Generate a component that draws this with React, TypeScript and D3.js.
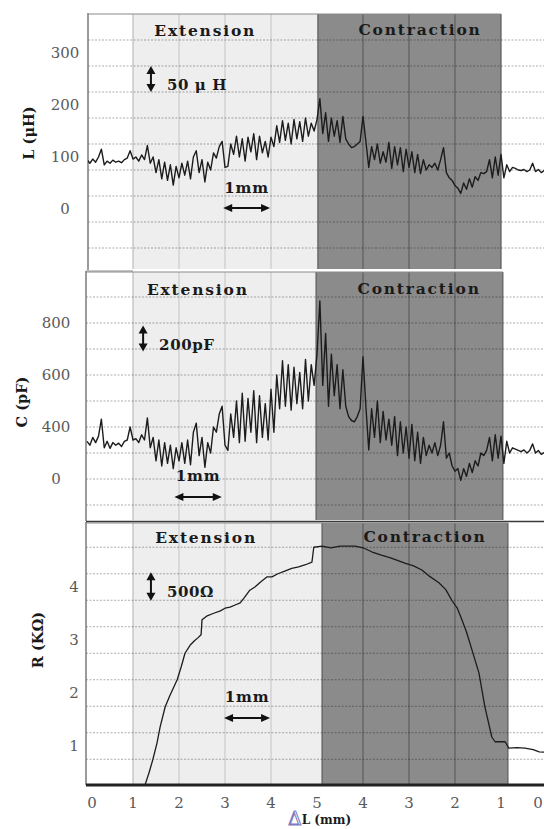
import React from "react";
import * as d3 from "d3";

// ---- data (travel along the ΔL axis, sampled every STEP_MM) ----
const STEP_MM = 0.0625;

// Inductance L (µH)
const L_VALUES = [
  95, 88, 96, 90, 100, 115, 85, 92, 88, 94, 90, 92, 89, 95, 98, 112, 96,
  100, 92, 104, 95, 122, 88, 100, 70, 95, 58, 90, 55, 85, 46, 82, 60,
  88, 65, 92, 58, 100, 112, 70, 95, 52, 90, 75, 108, 98, 120, 130, 80,
  82, 125, 105, 140, 100, 135, 92, 138, 110, 145, 95, 140, 108, 130, 100, 138,
  120, 160, 128, 170, 132, 165, 125, 172, 135, 168, 130, 175, 140, 165, 150, 172,
  212, 145, 185, 130, 175, 140, 170, 128, 178, 135, 125, 118, 120, 125, 130, 178,
  130, 80, 120, 95, 125, 88, 110, 90, 128, 78, 120, 85, 118, 72, 115, 80,
  110, 70, 105, 68, 95, 75, 85, 80, 88, 75, 95, 118, 70, 60, 55, 45,
  40, 30, 50, 38, 58, 42, 62, 55, 70, 68, 72, 95, 60, 100, 65, 105,
  60, 85, 72, 80, 78, 75, 74, 76, 72, 75, 88, 72, 76, 70, 74, 73,
];

// Capacitance C (pF)
const C_VALUES = [
  345, 330, 360, 340, 365, 430, 320, 345, 318, 340, 330, 338, 325, 345, 350, 400, 350,
  355, 340, 370, 350, 435, 320, 360, 270, 350, 250, 340, 260, 330, 240, 320, 270,
  340, 260, 350, 255, 380, 415, 290, 360, 245, 340, 300, 400, 380, 450, 480, 330,
  310, 450, 360, 500, 340, 530, 345, 510, 380, 540, 340, 520, 360, 490, 350, 545,
  380, 600, 470, 655, 480, 640, 465, 630, 490, 610, 470, 660, 500, 640, 560, 680,
  885, 560, 760, 480, 680, 520, 640, 470, 620, 480, 440, 425, 420, 440, 470, 670,
  480, 312, 470, 360, 500, 340, 460, 350, 430, 330, 440, 290, 420, 300, 400, 280,
  410, 270, 380, 260, 360, 290, 330, 300, 340, 290, 330, 420, 280, 300, 250, 230,
  240, 195, 240, 210, 260, 225, 270, 250, 300, 290, 310, 360, 270, 370, 280, 365,
  260, 345, 300, 320, 315, 310, 305, 312, 300, 310, 335, 300, 310, 295, 302, 298,
];

// Resistance R (KΩ) at travel positions (mm)
const R_POS = [
  1.2, 1.26, 1.35, 1.43, 1.52, 1.59, 1.7, 1.8, 1.96, 2.05,
  2.13, 2.24, 2.33, 2.41, 2.48, 2.5, 2.6, 2.74, 2.9, 3.0,
  3.11, 3.22, 3.33, 3.42, 3.54, 3.65, 3.78, 3.91, 4.02, 4.15,
  4.3, 4.45, 4.6, 4.75, 4.89, 4.93, 5.11, 5.3, 5.5, 5.83,
  6.0, 6.2, 6.4, 6.6, 6.91, 7.1, 7.28, 7.45, 7.65, 7.8,
  7.93, 8.05, 8.15, 8.25, 8.37, 8.52, 8.65, 8.8, 8.87, 9.09,
  9.17, 9.35, 9.52, 9.7, 9.83, 10.0,
];
const R_VALUES = [
  0.0, 0.26, 0.5, 0.74, 1.05, 1.36, 1.74, 1.95, 2.25, 2.5,
  2.75, 2.9, 2.98, 3.04, 3.1, 3.38, 3.45, 3.5, 3.55, 3.6,
  3.62, 3.66, 3.7, 3.8, 3.94, 4.0, 4.1, 4.19, 4.19, 4.25,
  4.3, 4.35, 4.38, 4.42, 4.47, 4.75, 4.77, 4.74, 4.77, 4.77,
  4.74, 4.66, 4.6, 4.55, 4.45, 4.4, 4.32, 4.2, 4.08, 3.95,
  3.75, 3.6, 3.38, 3.15, 2.81, 2.38, 1.74, 1.17, 1.08, 1.08,
  0.96, 0.97, 0.96, 0.93, 0.89, 0.88,
];

const X_TICKS = [0, 1, 2, 3, 4, 5, 6, 7, 8, 9, 10];
const X_TICK_LABELS = ["0", "1", "2", "3", "4", "5", "4", "3", "2", "1", "0"];
const L_TICKS = [300, 200, 100, 0];
const C_TICKS = [800, 600, 400, 200];
const C_TICK_LABELS = ["800", "600", "400", "0"];
const R_TICKS = [4, 3, 2, 1];
const PHASES = ["Extension", "Contraction"];
// phase boundaries per panel (mm of travel)
const EXT_START = [1, 1, 1];
const EXT_END = [5.02, 4.98, 5.11];
const CON_END = [9.0, 9.04, 9.15];
const SCALE_TEXT = ["50 μ H", "200pF", "500Ω"];
const AXIS_TITLES = ["L (μH)", "C (pF)", "R (KΩ)"];

const SERIF = "'DejaVu Serif', 'Liberation Serif', serif";

function VArrow({ x, y1, y2 }: { x: number; y1: number; y2: number }) {
  return (
    <g>
      <line x1={x} x2={x} y1={y1 + 5} y2={y2 - 5} stroke="#111" strokeWidth={2} />
      <path d={`M${x - 4.5},${y1 + 8} L${x},${y1} L${x + 4.5},${y1 + 8} Z`} fill="#111" />
      <path d={`M${x - 4.5},${y2 - 8} L${x},${y2} L${x + 4.5},${y2 - 8} Z`} fill="#111" />
    </g>
  );
}

function HArrow({ x1, x2, y }: { x1: number; x2: number; y: number }) {
  return (
    <g>
      <line x1={x1 + 5} x2={x2 - 5} y1={y} y2={y} stroke="#111" strokeWidth={1.8} />
      <path d={`M${x1 + 9},${y - 4} L${x1},${y} L${x1 + 9},${y + 4} Z`} fill="#111" />
      <path d={`M${x2 - 9},${y - 4} L${x2},${y} L${x2 - 9},${y + 4} Z`} fill="#111" />
    </g>
  );
}

export default function App() {
  const W = 544;
  const H = 829;
  const x = d3.scaleLinear().domain([0, 10]).range([87, 547]);

  const yL = d3.scaleLinear().domain([0, 300]).range([209, 53]);
  const yC = d3.scaleLinear().domain([800, 400]).range([323, 427]);
  const yR = d3.scaleLinear().domain([4, 0]).range([587, 799]);

  const lineIdx = (y: d3.ScaleLinear<number, number>) =>
    d3
      .line<number>()
      .x((_, i) => x(i * STEP_MM))
      .y((d) => y(d));

  const rLine = d3
    .line<number>()
    .x((_, i) => x(R_POS[i]))
    .y((d) => yR(d));

  const panels = [
    {
      top: 14, bottom: 269, left: 88, y: yL,
      grid: d3.range(-75, 330, 50),
      ticks: L_TICKS, tickLabels: L_TICKS.map(String), tickX: 65,
      titleX: 28, titleY: 133,
      path: lineIdx(yL)(L_VALUES) || "",
      labelY: [30, 29], labelX: [2.57, 7.24],
      vArrow: { t: 1.39, v1: 275, v2: 225 },
      mm: { t1: 2.96, t2: 3.98, ty: 188, ay: 208 },
    },
    {
      top: 272, bottom: 520, left: 86, y: yC,
      grid: d3.range(100, 901, 100),
      ticks: C_TICKS, tickLabels: C_TICK_LABELS, tickX: 56,
      titleX: 21, titleY: 402,
      path: lineIdx(yC)(C_VALUES) || "",
      labelY: [289, 288], labelX: [2.41, 7.22],
      vArrow: { t: 1.22, v1: 790, v2: 690 },
      mm: { t1: 1.9, t2: 2.93, ty: 476, ay: 497 },
    },
    {
      top: 523, bottom: 784, left: 86, y: yR,
      grid: d3.range(0.75, 4.8, 0.5),
      ticks: R_TICKS, tickLabels: R_TICKS.map(String), tickX: 74,
      titleX: 37, titleY: 640,
      path: rLine(R_VALUES) || "",
      labelY: [537, 536], labelX: [2.59, 7.35],
      vArrow: { t: 1.39, v1: 4.28, v2: 3.74 },
      mm: { t1: 2.98, t2: 3.98, ty: 697, ay: 718 },
    },
  ];

  return (
    <div>
      <style>{`body{margin:0;background:#fff}`}</style>
      <svg width={W} height={H} viewBox={`0 0 ${W} ${H}`} style={{ display: "block" }}>
        <defs>
          {panels.map((p, k) => (
            <clipPath id={`clip${k}`} key={k}>
              <rect x={p.left} y={p.top} width={W - p.left} height={p.bottom - p.top} />
            </clipPath>
          ))}
        </defs>
        <rect x={0} y={0} width={W} height={H} fill="#fff" />

        {panels.map((p, k) => {
          const xe0 = x(EXT_START[k]);
          const xe1 = x(EXT_END[k]);
          const xc1 = x(CON_END[k]);
          return (
            <g key={k}>
              {/* phase regions */}
              <rect x={xe0} y={p.top} width={xe1 - xe0} height={p.bottom - p.top} fill="#eeeeee" />
              <rect x={xe1} y={p.top} width={xc1 - xe1} height={p.bottom - p.top} fill="#8b8b8b" />
              {/* vertical grid */}
              {[2, 3, 4].map((t) => (
                <line key={`ve${t}`} x1={x(t)} x2={x(t)} y1={p.top} y2={p.bottom} stroke="#c4c4c4" strokeWidth={1} />
              ))}
              {[6, 7, 8].map((t) => (
                <line key={`vc${t}`} x1={x(t)} x2={x(t)} y1={p.top} y2={p.bottom} stroke="#5e5e5e" strokeWidth={1.2} />
              ))}
              <line x1={xe0} x2={xe0} y1={p.top} y2={p.bottom} stroke="#bdbdbd" strokeWidth={1.2} />
              <line x1={xe1} x2={xe1} y1={p.top} y2={p.bottom} stroke="#5a5a5a" strokeWidth={1.2} />
              <line x1={xc1} x2={xc1} y1={p.top} y2={p.bottom} stroke="#5a5a5a" strokeWidth={1.2} />
              {/* horizontal dotted grid */}
              {p.grid.map((v) => (
                <line
                  key={`h${v}`}
                  x1={p.left}
                  x2={W}
                  y1={p.y(v)}
                  y2={p.y(v)}
                  stroke="rgba(0,0,0,0.32)"
                  strokeWidth={1}
                  strokeDasharray="2,1.5"
                />
              ))}
              {/* frame */}
              <line x1={p.left} x2={p.left} y1={p.top - 1} y2={p.bottom + 1} stroke="#7a7a7a" strokeWidth={1.5} />
              <line x1={p.left} x2={xc1} y1={p.top} y2={p.top} stroke="#8a8a8a" strokeWidth={1} />
              {/* phase labels */}
              {PHASES.map((lab, j) => (
                <text
                  key={lab}
                  x={x(p.labelX[j])}
                  y={p.labelY[j]}
                  textAnchor="middle"
                  dominantBaseline="central"
                  fontFamily={SERIF}
                  fontWeight="bold"
                  fontSize={15.5}
                  letterSpacing={1.8}
                  fill="#1a1a1a"
                >
                  {lab}
                </text>
              ))}
              {/* data line */}
              <path
                d={p.path}
                fill="none"
                stroke="#1c1c1c"
                strokeWidth={k === 2 ? 1.3 : 1.4}
                strokeLinejoin="round"
                clipPath={`url(#clip${k})`}
              />
              {/* y ticks */}
              {p.ticks.map((v, j) => (
                <text
                  key={`t${v}`}
                  x={p.tickX}
                  y={p.y(v)}
                  textAnchor="middle"
                  dominantBaseline="central"
                  fontFamily={SERIF}
                  fontSize={15}
                  fill="#5a5a5a"
                >
                  {p.tickLabels[j]}
                </text>
              ))}
              {/* y axis title */}
              <text
                transform={`translate(${p.titleX},${p.titleY}) rotate(-90)`}
                textAnchor="middle"
                dominantBaseline="central"
                fontFamily={SERIF}
                fontWeight="bold"
                fontSize={14.5}
                fill="#1a1a1a"
              >
                {AXIS_TITLES[k]}
              </text>
              {/* vertical scale bar */}
              <VArrow x={x(p.vArrow.t)} y1={p.y(p.vArrow.v1)} y2={p.y(p.vArrow.v2)} />
              <text
                x={x(p.vArrow.t) + 16}
                y={(p.y(p.vArrow.v1) + p.y(p.vArrow.v2)) / 2 + 6}
                dominantBaseline="central"
                fontFamily={SERIF}
                fontWeight="bold"
                fontSize={15}
                letterSpacing={0.6}
                fill="#1a1a1a"
              >
                {SCALE_TEXT[k]}
              </text>
              {/* 1 mm scale bar */}
              <text
                x={(x(p.mm.t1) + x(p.mm.t2)) / 2}
                y={p.mm.ty}
                textAnchor="middle"
                dominantBaseline="central"
                fontFamily={SERIF}
                fontWeight="bold"
                fontSize={15}
                letterSpacing={0.8}
                fill="#1a1a1a"
              >
                1mm
              </text>
              <HArrow x1={x(p.mm.t1)} x2={x(p.mm.t2)} y={p.mm.ay} />
            </g>
          );
        })}

        {/* separators between panels */}
        <line x1={86} x2={W} y1={521.5} y2={521.5} stroke="#3a3a3a" strokeWidth={1.5} />
        <line x1={86} x2={x(EXT_START[1])} y1={271} y2={271} stroke="#8a8a8a" strokeWidth={1} />

        {/* bottom axis */}
        <line x1={86} x2={W} y1={785} y2={785} stroke="#222" strokeWidth={3} />
        {X_TICKS.map((t, i) => (
          <text
            key={`xt${i}`}
            x={Math.min(x(t) + (i === 0 ? 5 : 0), 538)}
            y={803}
            textAnchor="middle"
            dominantBaseline="central"
            fontFamily={SERIF}
            fontSize={15}
            fill="#5a5a5a"
          >
            {X_TICK_LABELS[i]}
          </text>
        ))}
        <text x={288} y={818} dominantBaseline="central" fontFamily={SERIF}>
          <tspan fontSize={19} fill="none" stroke="#7c7cc4" strokeWidth={1}>
            Δ
          </tspan>
          <tspan fontSize={12} fontWeight="bold" fill="#1a1a1a" dy={2}>
            L (mm)
          </tspan>
        </text>
      </svg>
    </div>
  );
}
